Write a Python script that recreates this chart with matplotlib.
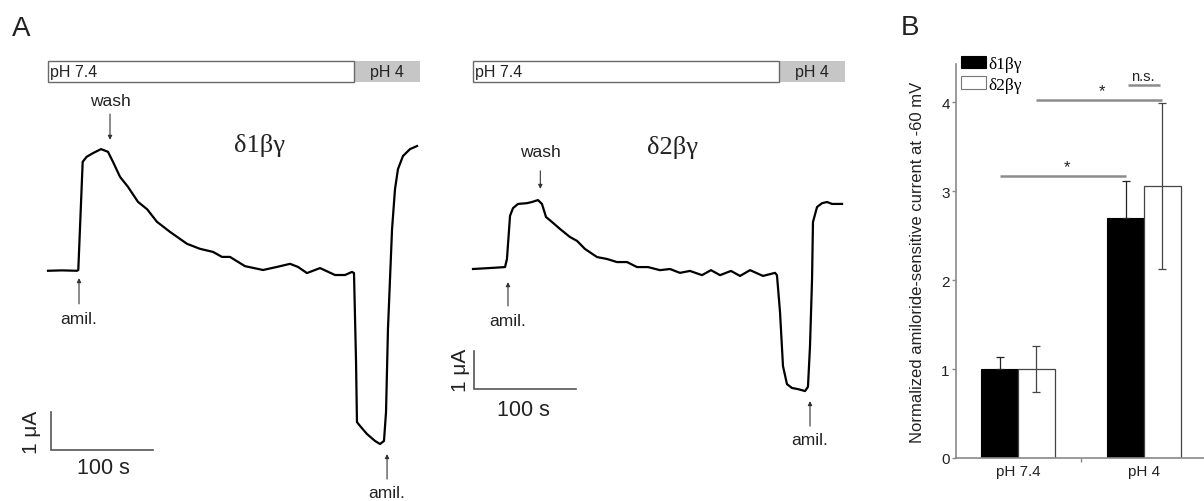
import matplotlib
matplotlib.use("Agg")
import matplotlib.pyplot as plt
from matplotlib.patches import Rectangle, Patch
from matplotlib.font_manager import FontProperties

plt.rcParams['font.family'] = ['Liberation Sans', 'DejaVu Sans']

# ---------------- data ----------------
# Trace delta1 beta gamma: time (s), amiloride-sensitive current (uA, relative to baseline)
t1 = [0, 13.7, 28.4, 29.7, 34.0, 37.9, 44.4, 52.0, 58.8, 63.7, 70.6, 78.4, 88.2, 97.1,
      106.9, 119.6, 136.3, 149.0, 161.8, 170.6, 178.4, 193.1, 210.8, 224.5, 237.3, 245.1,
      253.9, 266.7, 281.4, 291.2, 298.0, 300.0, 302.0, 302.9, 305.9, 312.7, 320.6, 325.5,
      329.4, 331.4, 333.3, 337.3, 340.2, 343.1, 348.0, 354.9, 361.8]
I1 = [-0.02, -0.01, -0.02, 0.0, 2.81, 2.94, 3.04, 3.14, 3.07, 2.81, 2.42, 2.16, 1.77, 1.58,
      1.25, 0.99, 0.68, 0.55, 0.47, 0.34, 0.34, 0.10, 0.0, 0.08, 0.16, 0.08,
      -0.08, 0.05, -0.13, -0.13, -0.05, -0.08, -2.39, -3.95, -4.05, -4.26, -4.44, -4.52,
      -4.44, -3.69, -1.53, 1.06, 2.10, 2.62, 2.96, 3.14, 3.22]

# Trace delta2 beta gamma
t2 = [0, 19.6, 31.4, 33.3, 36.3, 39.2, 44.1, 52.9, 57.8, 63.7, 67.6, 71.6, 77.5, 85.3,
      95.1, 102.0, 109.8, 121.6, 131.4, 141.2, 151.0, 160.8, 171.6, 183.3, 193.1, 202.9,
      212.7, 224.5, 233.3, 242.2, 252.9, 261.8, 271.6, 284.3, 296.1, 298.0, 301.0, 303.9,
      307.8, 312.7, 318.6, 325.5, 328.4, 330.4, 332.4, 333.3, 337.3, 342.2, 347.1, 352.0, 361.8]
I2 = [0.0, 0.03, 0.05, 0.26, 1.38, 1.58, 1.69, 1.71, 1.74, 1.79, 1.69, 1.35, 1.22, 1.04,
      0.83, 0.73, 0.52, 0.31, 0.26, 0.18, 0.18, 0.05, 0.05, -0.03, 0.0, -0.10,
      -0.05, -0.16, -0.03, -0.16, -0.05, -0.18, -0.03, -0.18, -0.10, -0.16, -1.12, -2.52,
      -2.99, -3.09, -3.12, -3.17, -3.06, -2.00, -0.26, 1.22, 1.61, 1.71, 1.74, 1.69, 1.69]

# solution timeline (s)
ph_segments = [(0, 300), (300, 365)]
ph_labels = ["pH 7.4", "pH 4"]

# Panel B
groups = ["pH 7.4", "pH 4"]
series = ["\u03b41\u03b2\u03b3", "\u03b42\u03b2\u03b3"]
d1_mean = [1.0, 2.70]
d1_err = [0.13, 0.41]
d2_mean = [1.0, 3.06]
d2_err = [0.26, 0.93]
ylabel_b = "Normalized amiloride-sensitive current at -60 mV"

# ---------------- figure ----------------
W, H = 1204, 502
fig = plt.figure(figsize=(W / 100, H / 100), dpi=100)

SERIF = ['Liberation Serif', 'DejaVu Serif']
TXT = '#222222'
ARW = '#333333'


def trace_axes(x0px, x1px, t0px, base_px, px_per_s=1.02, px_per_uA=38.5):
    ax = fig.add_axes([x0px / W, 0, (x1px - x0px) / W, 1])
    ax.set_xlim((x0px - t0px) / px_per_s, (x1px - t0px) / px_per_s)
    ax.set_ylim((base_px - H) / px_per_uA, base_px / px_per_uA)
    ax.axis('off')
    return ax


def ph_bar(ax, y0, y1):
    (a0, a1), (b0, b1) = ph_segments
    ax.add_patch(Rectangle((b0, y0), b1 - b0, y1 - y0, facecolor='#c6c6c6',
                           edgecolor='none', zorder=1))
    ax.add_patch(Rectangle((a0, y0), a1 - a0, y1 - y0, facecolor='white',
                           edgecolor='#6a6a6a', lw=1.0, zorder=2))
    ax.text(a0 + 1.5, (y0 + y1) / 2, ph_labels[0], ha='left', va='center',
            fontsize=11.5, color=TXT, zorder=3)
    ax.text((b0 + b1) / 2, (y0 + y1) / 2, ph_labels[1], ha='center', va='center',
            fontsize=11.5, color=TXT, zorder=3)


def arrow_label(ax, x, y_text, y_from, y_to, label):
    ax.annotate('', xy=(x, y_to), xytext=(x, y_from),
                arrowprops=dict(arrowstyle='-|>', color=ARW, lw=0.8,
                                mutation_scale=6, shrinkA=0, shrinkB=0))
    ax.text(x, y_text, label, ha='center', va='center', fontsize=12.5, color=TXT)


def scale_bar(ax, x, y, tx_label_xy, uA_label_xy):
    ax.plot([x, x, x + 100], [y + 1, y, y], color='#555555', lw=1.2,
            solid_joinstyle='miter')
    ax.text(*tx_label_xy, "100 s", ha='center', va='center', fontsize=15.5, color=TXT)
    ax.text(*uA_label_xy, "1 \u03bcA", ha='center', va='center', fontsize=15,
            rotation=90, color=TXT)


# ---- trace 1 ----
ax1 = trace_axes(0, 440, 48, 271)
ax1.plot(t1, I1, color='black', lw=1.6, solid_joinstyle='round')
ph_bar(ax1, 4.88, 5.43)
arrow_label(ax1, 60.8, 4.39, 4.05, 3.38, "wash")
arrow_label(ax1, 30.4, -1.27, -0.88, -0.21, "amil.")
arrow_label(ax1, 332.4, -5.77, -5.43, -4.78, "amil.")
ax1.text(207.8, 3.27, series[0], ha='center', va='center', fontsize=19,
         family=SERIF, color=TXT)
scale_bar(ax1, 2.9, -4.68, (54, -5.13), (-15.7, -4.18))

# ---- trace 2 ----
ax2 = trace_axes(440, 880, 473, 270)
ax2.plot(t2, I2, color='black', lw=1.6, solid_joinstyle='round')
ph_bar(ax2, 4.86, 5.40)
arrow_label(ax2, 66, 3.06, 2.55, 2.08, "wash")
arrow_label(ax2, 34.3, -1.35, -0.96, -0.34, "amil.")
arrow_label(ax2, 330.4, -4.42, -4.08, -3.43, "amil.")
ax2.text(196, 3.17, series[1], ha='center', va='center', fontsize=19,
         family=SERIF, color=TXT)
scale_bar(ax2, 1.0, -3.12, (49, -3.64), (-12.7, -2.6))

# ---- panel labels ----
fig.text(12 / W, 1 - 36 / H, "A", fontsize=20, va='baseline', ha='left', color=TXT)
fig.text(901 / W, 1 - 35 / H, "B", fontsize=20, va='baseline', ha='left', color=TXT)

# ---- panel B ----
ax3 = fig.add_axes([956 / W, (H - 459) / H, (1204 - 956) / W, (459 - 65) / H])
bw = 0.29
x = [0, 1]
xb = [i - bw / 2 for i in x]
xw = [i + bw / 2 for i in x]
ax3.bar(xb, d1_mean, width=bw, color='black', edgecolor='black', lw=0.8, zorder=2)
ax3.bar(xw, d2_mean, width=bw, color='white', edgecolor='#444444', lw=0.9, zorder=2)
ax3.errorbar(xb, d1_mean, yerr=[[0] * len(d1_err), d1_err], fmt='none', ecolor='#222222',
             elinewidth=0.9, capsize=3, capthick=0.9, zorder=3)
ax3.errorbar(xw, d2_mean, yerr=d2_err, fmt='none', ecolor='#444444', elinewidth=0.9,
             capsize=3, capthick=0.9, zorder=3)
ax3.set_xlim(-0.492, 1.476)
ax3.set_ylim(0, 4.43)
for s in ['top', 'right']:
    ax3.spines[s].set_visible(False)
for s in ['left', 'bottom']:
    ax3.spines[s].set_color('#8a8a8a')
    ax3.spines[s].set_linewidth(1.2)
ax3.set_yticks([0, 1, 2, 3, 4])
ax3.set_yticklabels(['0', '1', '2', '3', '4'])
ax3.set_xticks(x)
ax3.set_xticklabels(groups)
ax3.set_xticks([0.5], minor=True)
ax3.tick_params(axis='y', length=3, width=1.0, color='#8a8a8a', pad=1.5,
                labelsize=11, labelcolor=TXT)
ax3.tick_params(axis='x', which='major', length=0, pad=4.5, labelsize=11,
                labelcolor=TXT)
ax3.tick_params(axis='x', which='minor', length=3, width=1.0, color='#8a8a8a')
ax3.set_ylabel(ylabel_b, fontsize=12, color=TXT)
ax3.yaxis.set_label_coords(-0.125, 0.5)

# significance markers
sig_col = '#8c8c8c'
ax3.plot([xb[0], xb[1]], [3.17, 3.17], color=sig_col, lw=1.8, solid_capstyle='butt')
ax3.text((xb[0] + xb[1]) / 2 + 0.03, 3.19, "*", ha='center', va='bottom', fontsize=12,
         color=TXT)
ax3.plot([xw[0], xw[1]], [4.03, 4.03], color=sig_col, lw=1.8, solid_capstyle='butt',
         clip_on=False)
ax3.text((xw[0] + xw[1]) / 2 + 0.02, 4.05, "*", ha='center', va='bottom', fontsize=12,
         color=TXT)
ax3.plot([0.873, 1.127], [4.19, 4.19], color=sig_col, lw=1.8, solid_capstyle='butt',
         clip_on=False)
ax3.text(0.99, 4.22, "n.s.", ha='center', va='bottom', fontsize=10.5, color=TXT)

handles = [Patch(facecolor='black', edgecolor='black', lw=0.8),
           Patch(facecolor='white', edgecolor='#777777', lw=0.8)]
ax3.legend(handles, series, loc='upper left', bbox_to_anchor=(961 / W, 1 - 57 / H),
           bbox_transform=fig.transFigure, frameon=False,
           prop=FontProperties(family=SERIF, size=12.5), handlelength=1.45,
           handleheight=0.7, handletextpad=0.1, labelspacing=0.25, borderpad=0,
           borderaxespad=0)

fig.savefig("out.png", dpi=100)
